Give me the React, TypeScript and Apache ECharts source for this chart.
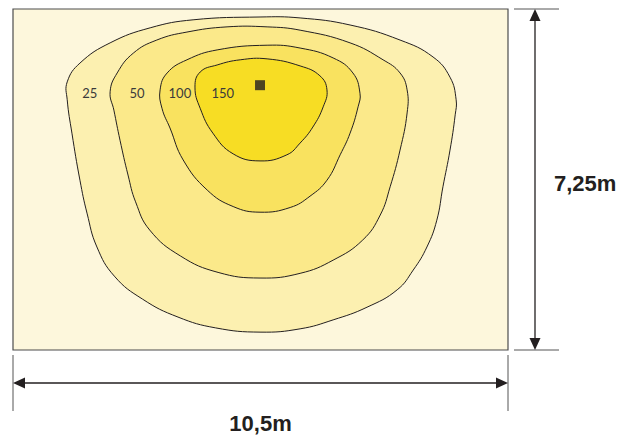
import React, { useEffect, useRef } from "react";
import * as echarts from "echarts";

// Room size (metres)
const roomWidth = 10.5;
const roomDepth = 7.25;

// Isolux levels (lux) and their contour outlines in metres (x from left, y from top)
const levels = [25, 50, 100, 150];
const contour25: number[][] = [
  [1.15, 1.93], [1.15, 1.55], [1.42, 1.15], [2.06, 0.72], [2.91, 0.4], [3.82, 0.23],
  [5.24, 0.17], [6.09, 0.19], [7.15, 0.34], [8.21, 0.66], [8.91, 1.02], [9.27, 1.45],
  [9.4, 1.93], [9.38, 2.25], [9.27, 3.0], [9.12, 3.78], [8.99, 4.49], [8.78, 5.06],
  [8.49, 5.55], [8.15, 5.97], [7.51, 6.34], [6.79, 6.61], [6.09, 6.8], [5.24, 6.87],
  [4.3, 6.78], [3.5, 6.55], [2.75, 6.17], [2.15, 5.68], [1.78, 5.06], [1.57, 4.34],
  [1.42, 3.64], [1.25, 2.64],
];
const contour50: number[][] = [
  [2.06, 1.76], [2.21, 1.36], [2.55, 0.94], [3.05, 0.66], [3.69, 0.49], [4.54, 0.38],
  [5.39, 0.38], [6.09, 0.45], [7.15, 0.72], [7.85, 1.08], [8.21, 1.36], [8.36, 1.72],
  [8.36, 2.21], [8.21, 3.0], [8.0, 3.78], [7.79, 4.38], [7.42, 4.91], [6.79, 5.34],
  [6.09, 5.62], [5.24, 5.72], [4.35, 5.6], [3.55, 5.25], [2.9, 4.7], [2.6, 4.1],
  [2.44, 3.53], [2.27, 2.79], [2.14, 2.15],
];
const contour100: number[][] = [
  [3.12, 1.72], [3.27, 1.36], [3.69, 1.08], [4.33, 0.87], [5.39, 0.77], [6.09, 0.83],
  [6.79, 1.04], [7.21, 1.36], [7.36, 1.79], [7.32, 2.08], [7.15, 2.64], [6.94, 3.1],
  [6.66, 3.64], [6.3, 3.98], [5.88, 4.22], [5.24, 4.32], [4.67, 4.2], [4.12, 3.85],
  [3.61, 3.21], [3.33, 2.53], [3.16, 2.11],
];
const contour150: number[][] = [
  [3.86, 1.66], [3.97, 1.34], [4.33, 1.19], [4.82, 1.08], [5.39, 1.06], [6.09, 1.21],
  [6.51, 1.42], [6.66, 1.72], [6.58, 2.08], [6.36, 2.51], [6.09, 2.85], [5.81, 3.1],
  [5.24, 3.23], [4.67, 3.08], [4.24, 2.64], [3.97, 2.11],
];
const contours = [contour25, contour50, contour100, contour150];
const fillColors = ["#fcf0b0", "#fbe98a", "#f9e25f", "#f7dd24"];

// Level label positions (metres)
const labelX = [1.63, 2.63, 3.54, 4.45];
const labelY = [1.79, 1.79, 1.79, 1.79];

// Luminaire position (metres)
const lampPos = [5.24, 1.62];

const fmt = (v: number) => String(v).replace(".", ",") + "m";

export default function App() {
  const ref = useRef<HTMLDivElement>(null);
  useEffect(() => {
    document.body.style.margin = "0";
    const chart = echarts.init(ref.current!, null, { renderer: "svg" });
    const L = 13, T = 9, W = 495, H = 341;
    const R = L + W, B = T + H;
    const ink = "#231f20";
    const ah = 12, aw = 5.5;
    const ay = 383; // horizontal dimension line
    const ax = 535; // vertical dimension line
    chart.setOption({
      animation: false,
      grid: {
        left: L, top: T, width: W, height: H, show: true,
        backgroundColor: "#fdf7dc", borderColor: "#4d4d4d", borderWidth: 1.2,
      },
      xAxis: { type: "value", min: 0, max: roomWidth, show: false },
      yAxis: { type: "value", min: 0, max: roomDepth, inverse: true, show: false },
      series: [
        {
          type: "custom",
          coordinateSystem: "cartesian2d",
          clip: false,
          data: contours.map((c, i) => [c[0][0], c[0][1], i]),
          renderItem: (params: any, api: any) => {
            const i = params.dataIndex;
            const pts = contours[i].map((p) => api.coord(p));
            return {
              type: "polygon",
              shape: { points: pts, smooth: 0.45 },
              style: { fill: fillColors[i], stroke: ink, lineWidth: 1 },
            };
          },
          z: 2,
        },
        {
          type: "custom",
          coordinateSystem: "cartesian2d",
          clip: false,
          data: levels.map((v, i) => [labelX[i], labelY[i], v]),
          renderItem: (params: any, api: any) => {
            const c = api.coord([api.value(0), api.value(1)]);
            return {
              type: "text",
              x: c[0], y: c[1],
              style: {
                text: String(api.value(2)),
                fill: "#3a3a3a",
                font: "13px Lato, 'Open Sans', sans-serif",
                align: "center", verticalAlign: "middle",
              },
            };
          },
          z: 5,
        },
        {
          type: "scatter",
          data: [lampPos],
          symbol: "rect",
          symbolSize: 10,
          itemStyle: { color: ink },
          z: 6,
        },
      ],
      graphic: [
        // extension lines
        { type: "line", shape: { x1: L, y1: B + 5, x2: L, y2: 411 }, style: { stroke: "#555", lineWidth: 1 } },
        { type: "line", shape: { x1: R, y1: B + 5, x2: R, y2: 411 }, style: { stroke: "#555", lineWidth: 1 } },
        { type: "line", shape: { x1: R + 6, y1: T, x2: 559, y2: T }, style: { stroke: "#555", lineWidth: 1 } },
        { type: "line", shape: { x1: R + 6, y1: B, x2: 559, y2: B }, style: { stroke: "#555", lineWidth: 1 } },
        // horizontal dimension
        { type: "line", shape: { x1: L + 2, y1: ay, x2: R - 2, y2: ay }, style: { stroke: ink, lineWidth: 1.3 } },
        { type: "polygon", shape: { points: [[L, ay], [L + ah, ay - aw], [L + ah, ay + aw]] }, style: { fill: ink } },
        { type: "polygon", shape: { points: [[R, ay], [R - ah, ay - aw], [R - ah, ay + aw]] }, style: { fill: ink } },
        {
          type: "text", x: (L + R) / 2, y: 423,
          style: { text: fmt(roomWidth), font: "bold 22px 'Liberation Sans', Arial", fill: ink, align: "center", verticalAlign: "middle" },
        },
        // vertical dimension
        { type: "line", shape: { x1: ax, y1: T + 2, x2: ax, y2: B - 2 }, style: { stroke: ink, lineWidth: 1.3 } },
        { type: "polygon", shape: { points: [[ax, T], [ax - aw, T + ah], [ax + aw, T + ah]] }, style: { fill: ink } },
        { type: "polygon", shape: { points: [[ax, B], [ax - aw, B - ah], [ax + aw, B - ah]] }, style: { fill: ink } },
        {
          type: "text", x: 554, y: 183,
          style: { text: fmt(roomDepth), font: "bold 22px 'Liberation Sans', Arial", fill: ink, align: "left", verticalAlign: "middle" },
        },
      ],
    });
    return () => chart.dispose();
  }, []);
  return <div ref={ref} style={{ width: 641, height: 439 }} />;
}
